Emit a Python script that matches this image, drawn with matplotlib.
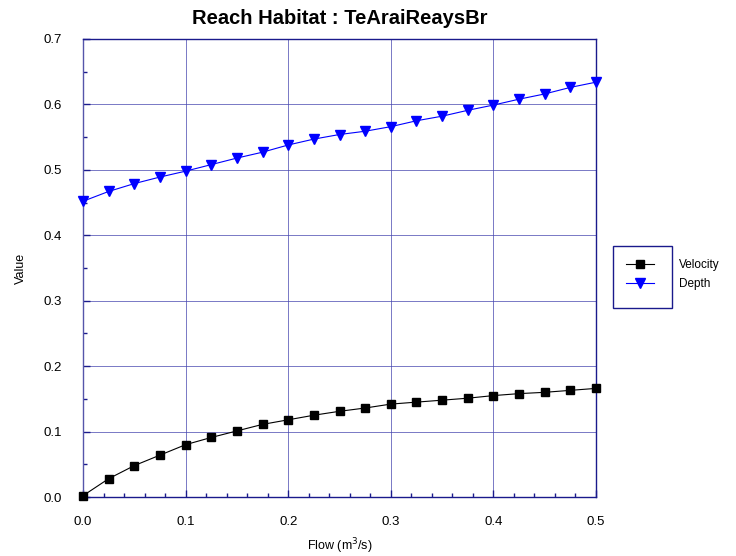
import matplotlib
matplotlib.use("Agg")
import matplotlib.pyplot as plt
from matplotlib.patches import Rectangle
from matplotlib.ticker import MultipleLocator

plt.rcParams['font.family'] = ['Liberation Sans', 'DejaVu Sans']

# data
flow = [0.0, 0.025, 0.05, 0.075, 0.1, 0.125, 0.15, 0.175, 0.2, 0.225, 0.25,
        0.275, 0.3, 0.325, 0.35, 0.375, 0.4, 0.425, 0.45, 0.475, 0.5]
velocity = [0.002, 0.028, 0.048, 0.064, 0.080, 0.091, 0.101, 0.111, 0.118, 0.125, 0.131,
            0.136, 0.142, 0.145, 0.148, 0.151, 0.155, 0.158, 0.160, 0.163, 0.166]
depth = [0.452, 0.467, 0.479, 0.489, 0.498, 0.508, 0.518, 0.527, 0.538, 0.547, 0.554,
         0.559, 0.566, 0.575, 0.582, 0.591, 0.599, 0.608, 0.616, 0.626, 0.634]

navy = '#1a1a8c'

fig = plt.figure(figsize=(7.36, 5.56), dpi=100)
ax = fig.add_axes([0.1128, 0.1061, 0.6970, 0.8238])

ax.plot(flow, velocity, color='black', lw=0.8, marker='s', ms=5.5,
        label='Velocity', clip_on=False, zorder=3)
ax.plot(flow, depth, color='blue', lw=0.8, marker='v', ms=7,
        label='Depth', clip_on=False, zorder=3)

ax.set_xlim(0, 0.5)
ax.set_ylim(0, 0.7)
ax.xaxis.set_major_locator(MultipleLocator(0.1))
ax.xaxis.set_minor_locator(MultipleLocator(0.02))
ax.yaxis.set_major_locator(MultipleLocator(0.1))
ax.yaxis.set_minor_locator(MultipleLocator(0.05))
ax.xaxis.set_major_formatter(plt.FormatStrFormatter('%.1f'))
ax.yaxis.set_major_formatter(plt.FormatStrFormatter('%.1f'))

ax.tick_params(which='both', direction='in', color=navy, labelsize=9.5)
ax.tick_params(axis='x', which='major', pad=14)
ax.tick_params(axis='y', which='major', pad=15)
ax.tick_params(which='major', length=5, width=1)
ax.tick_params(which='minor', length=3, width=1)
for s in ax.spines.values():
    s.set_color(navy)
    s.set_linewidth(1.0)
ax.spines['left'].set_color('#5555aa')

ax.grid(True, which='major', color='#4848b0', lw=0.6, alpha=0.85)
ax.set_axisbelow(True)

ax.set_title('Reach Habitat : TeAraiReaysBr', fontsize=14.5, fontweight='bold', pad=11)
ax.set_xlabel('Flow (m$^3$/s)', fontsize=9, labelpad=6)
ax.set_ylabel('Value', fontsize=9, labelpad=12)

leg = fig.legend(loc='upper left', bbox_to_anchor=(0.836, 0.553), frameon=False,
                 fontsize=8.5, handlelength=2.4, handletextpad=2.1, labelspacing=0.6)
fig.add_artist(Rectangle((613 / 736, 1 - 308 / 556), 59 / 736, 62 / 556,
                         transform=fig.transFigure, fill=False, edgecolor=navy, lw=1))

fig.savefig('out.png', dpi=100)
